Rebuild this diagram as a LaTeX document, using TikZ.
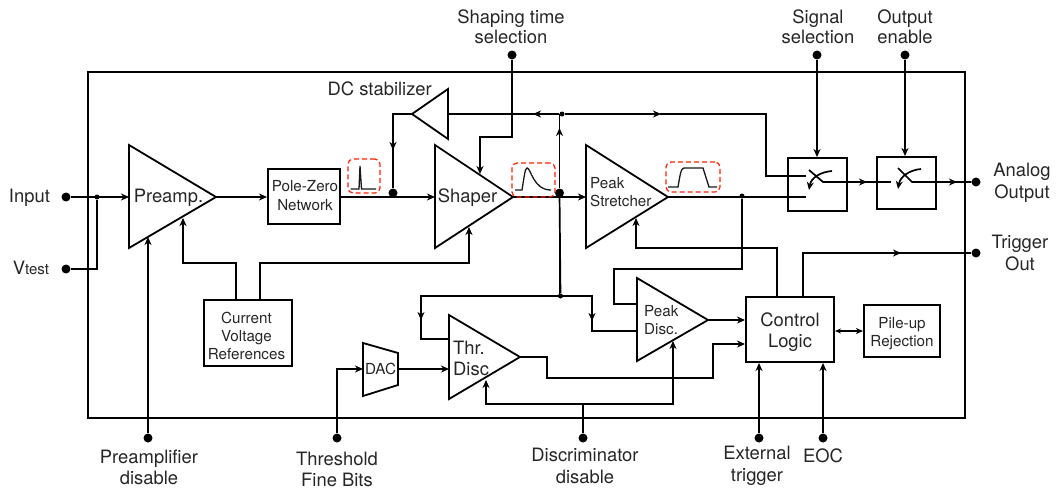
\documentclass[tikz,border=0pt]{standalone}
\usepackage{fontspec}
\setmainfont{TeX Gyre Heros}
\usetikzlibrary{arrows.meta}
\newcommand{\fsz}[1]{\fontsize{#1}{#1}\selectfont}
\tikzset{
  tipped/.style={-{Stealth[length=8pt,width=7pt,inset=2.5pt]}},
  wire/.style={line width=1.7pt,line join=miter,black},
  thinwire/.style={line width=1.3pt,black},
  block/.style={draw,line width=2pt,inner sep=0pt,align=center,text=black!85},
  amp/.style={draw,line width=1.8pt,line join=miter},
  dot/.style={circle,fill=black,inner sep=0pt,minimum size=9pt},
  jct/.style={circle,fill=black,inner sep=0pt,minimum size=5pt},
  pulsebox/.style={draw=red!75!orange,dashed,dash pattern=on 5pt off 3pt,line width=1.2pt,rounded corners=5pt},
  pulse/.style={line width=1.3pt,black!90},
  lab/.style={inner sep=0pt,align=center,text=black!85,font=\fsz{18.4}},
  small/.style={inner sep=0pt,align=center,text=black!85,font=\fsz{15.2}},
}
\begin{document}
\begin{tikzpicture}[x=1pt,y=-1pt]
\useasboundingbox (0,0) rectangle (1056,488);
\node[draw,line width=2pt,minimum width=877pt,minimum height=346pt,inner sep=0pt] (chip) at (526.5,245) {};

% amplifiers
\coordinate (preT) at (129,145); \coordinate (preB) at (129,248); \coordinate (preO) at (216,197);
\coordinate (shaT) at (435,145); \coordinate (shaB) at (435,248); \coordinate (shaO) at (513,197);
\coordinate (stT) at (586,145); \coordinate (stB) at (586,248); \coordinate (stO) at (668,197);
\coordinate (dcO) at (412,114); \coordinate (dcT) at (448,89); \coordinate (dcB) at (448,139);
\coordinate (pdT) at (637,278); \coordinate (pdB) at (637,361); \coordinate (pdO) at (708,320);
\coordinate (thT) at (449,315); \coordinate (thB) at (449,399); \coordinate (thO) at (520,357);
\draw[amp] (preT)--(preO)--(preB)--cycle;
\draw[amp] (shaT)--(shaO)--(shaB)--cycle;
\draw[amp] (stT)--(stO)--(stB)--cycle;
\draw[amp] (dcO)--(dcT)--(dcB)--cycle;
\draw[amp] (pdT)--(pdO)--(pdB)--cycle;
\draw[amp] (thT)--(thO)--(thB)--cycle;
\draw[amp] (363,343) coordinate (dacA) -- (398,353) -- (398,385) coordinate (dacB) -- (363,396) -- cycle;
\coordinate (dacI) at (363,369); \coordinate (dacO) at (398,369);

% blocks
\node[block,minimum width=72pt,minimum height=55pt] (pz) at (304,196.5) {};
\node[block,minimum width=88pt,minimum height=66pt] (ref) at (248,333) {};
\node[block,minimum width=88pt,minimum height=65pt] (ctl) at (790,329.5) {};
\node[block,minimum width=76pt,minimum height=52pt] (pile) at (902,331) {};
\node[block,minimum width=59pt,minimum height=53pt] (sw1) at (817.5,184.5) {};
\node[block,minimum width=59pt,minimum height=52pt] (sw2) at (906.5,183) {};
\node[small,font=\fsz{15.2}] (tPz) at (305,196) {Pole-Zero\\[3.7pt]Network};
\node[small,font=\fsz{15.2}] (tRef) at (246.5,336) {Current\\[2.7pt]Voltage\\[2.7pt]References};
\node[lab] (tCtl) at (790,332) {Control\\[2.5pt]Logic};
\node[small] (tPile) at (902,333.5) {Pile-up\\[2.8pt]Rejection};

% text in amplifiers
\node[lab] (tPre) at (168.5,198) {Preamp.};
\node[lab] (tSha) at (467.5,197.5) {Shaper};
\node[small,align=left,anchor=west] (tSt) at (590,192) {Peak\\[3.5pt]Stretcher};
\node[small,align=left,anchor=west] (tPd) at (644,320) {Peak\\[2.5pt]Disc.};
\node[lab,align=left,anchor=west] (tTh) at (453,358) {Thr.\\[2.6pt]Disc};
\node[small] (tDac) at (380.5,369) {DAC};

% outer dots
\node[dot] (in) at (66,197) {};
\node[dot] (vt) at (66,269) {};
\node[dot] (shp) at (512,55) {};
\node[dot] (sig) at (817,55) {};
\node[dot] (oen) at (905,55) {};
\node[dot] (ana) at (976,182) {};
\node[dot] (trg) at (976,253) {};
\node[dot] (pad) at (148,438) {};
\node[dot] (tfb) at (337,438) {};
\node[dot] (dis) at (583,438) {};
\node[dot] (ext) at (759,438) {};
\node[dot] (eoc) at (823,438) {};
% junctions
\node[jct] (jIn) at (97,197) {};
\node[dot] (jDc) at (393,193) {};
\node[dot] (jSh) at (559.5,193) {};
\node[jct] (jTop) at (562,114) {};
\node[jct] (jBot) at (560.5,296) {};
\node[jct] (jSt) at (742,196) {};

% input side
\draw[wire,tipped] (in) -- (129,197);
\draw[wire] (vt) -- (97,269) -- (jIn);
\draw[wire,tipped] (preO) -- (pz.west |- preO);
\draw[wire] (pz.east |- 0,197) -- (jDc |- 0,197);
\draw[wire,tipped] (jDc |- 0,197) -- (435,197);
\draw[wire,tipped] (pad) -- (148,237);
\draw[wire,tipped] (ref.north -| 236,0) -- (236,263) -- (183,263) -- (183,218);
\draw[wire,tipped] (ref.north -| 260,0) -- (260,263) -- (469,263) -- (469,227);

% DC stabilizer loop
\draw[wire] (dcO) -- (393,114) -- (393,148);
\draw[wire,tipped] (393,114) -- (393,150);
\draw[wire] (393,148) -- (jDc);
\draw[wire] (448,114) -- (jTop);
\draw[wire,tipped] (jTop) -- (533,114);
\draw[wire,tipped] (jTop) -- (661,114);
\draw[wire] (660,114) -- (766,114) -- (766,176) -- (806,176);

% shaper out and stretcher
\draw[wire] (shaO) -- (jSh |- shaO);
\draw[wire,tipped] (jSh |- shaO) -- (586,197);
\draw[wire,tipped] (jSh) -- (559.5,128);
\draw[wire] (559.5,130) -- (559.5,114);
\draw[wire] (jSh) -- (jBot -| jSh);
\draw[wire,tipped] (shp) -- (512,137) -- (480,137) -- (480,174);

% stretcher out
\draw[wire] (stO) -- (806,197);
\draw[wire] (jSt) -- (742,269) -- (614,269) -- (614,304) -- (637,304);
\draw[wire,tipped] (ctl.north -| 777,0) -- (777,248) -- (636,248) -- (636,218);

% switches
\draw[wire,tipped] (sig) -- (sw1.north -| sig);
\draw[wire,tipped] (oen) -- (sw2.north -| oen);
\draw[wire] (809,170) -- (823,182) -- (863,182);
\draw[wire,tipped] (823,182) -- (867,182);
\draw[wire] (863,182) -- (891,182);
\draw[wire,tipped] (832,171) .. controls (820,172) and (811,178) .. (809,190);
\draw[wire] (898,168) -- (912,182) -- (ana);
\draw[wire,tipped] (912,182) -- (957,182);
\draw[wire,tipped] (921,169) .. controls (909,170) and (900,177) .. (898,189);

% peak disc and thr disc
\draw[wire] (421,339) -- (421,296) -- (592,296) -- (592,331) -- (637,331);
\draw[wire,tipped] (421,296) -- (421,320);
\draw[wire] (421,318) -- (421,339) -- (449,339);
\draw[wire,tipped] (592,296) -- (592,321);
\draw[wire,tipped] (pdO) -- (ctl.west |- pdO);
\draw[wire,tipped] (thO) -- (547,357) -- (547,378) -- (713,378) -- (713,344) -- (ctl.west |- 0,344);
\draw[wire] (jSh) -- (jBot);
\draw[wire,tipped] (tfb) -- (337,369) -- (dacI);
\draw[wire,tipped] (dacO) -- (thT |- dacO);
\draw[wire] (dis) -- (583,404);
\draw[wire,tipped] (583,404) -- (486,404) -- (486,380);
\draw[wire,tipped] (583,404) -- (673,404) -- (673,341);

% control logic
\draw[wire,tipped] (ctl.north -| 803,0) -- (803,253) -- (901,253);
\draw[wire] (899,253) -- (trg);
\draw[thinwire,{Stealth[length=6pt,width=5pt,inset=2pt]}-{Stealth[length=7pt,width=6pt,inset=2pt]}] (ctl.east |- pile) -- (pile.west);
\draw[wire,tipped] (ext) -- (ctl.south -| ext);
\draw[wire,tipped] (eoc) -- (ctl.south -| eoc);

% pulse shapes
\node[pulsebox,minimum width=32pt,minimum height=34pt,inner sep=0pt] (p1) at (364,176) {};
\node[pulsebox,minimum width=43pt,minimum height=34pt,inner sep=0pt] (p2) at (533.5,180) {};
\node[pulsebox,minimum width=54pt,minimum height=30pt,inner sep=0pt] (p3) at (693,177) {};
\draw[pulse] (350.5,189) -- (359,189) -- (360,166) -- (361.5,189) -- (376,189);
\draw[pulse] (515,190) -- (522,190) .. controls (524,178) and (525,168) .. (527,168) .. controls (531,168) and (533,190) .. (551,190);
\draw[pulse] (668,187) -- (678,187) .. controls (680,175) and (681,168) .. (684,168) -- (703,168) -- (709,187) -- (717,187);

% outer labels
\node[lab] (lIn) at (29.5,198) {Input};
\node[lab] (lVt) at (31,268) {V{\fsz{15}test}};
\node[lab] (lSh) at (511,27) {Shaping time\\[1.6pt]selection};
\node[lab] (lSi) at (818,27) {Signal\\[1.6pt]selection};
\node[lab] (lOu) at (905,27) {Output\\[1.6pt]enable};
\node[lab,anchor=east] (lDc) at (432,89) {DC stabilizer};
\node[lab] (lAn) at (1022,183) {Analog\\[3.6pt]Output};
\node[lab] (lTr) at (1020,253) {Trigger\\[3.6pt]Out};
\node[lab] (lPa) at (149,467.5) {Preamplifier\\[2.6pt]disable};
\node[lab] (lTh) at (337,469) {Threshold\\[2.6pt]Fine Bits};
\node[lab] (lDi) at (585,466) {Discriminator\\[3.6pt]disable};
\node[lab] (lEx) at (757,466) {External\\[3.6pt]trigger};
\node[lab] (lEo) at (823,456) {EOC};
\end{tikzpicture}
\end{document}
